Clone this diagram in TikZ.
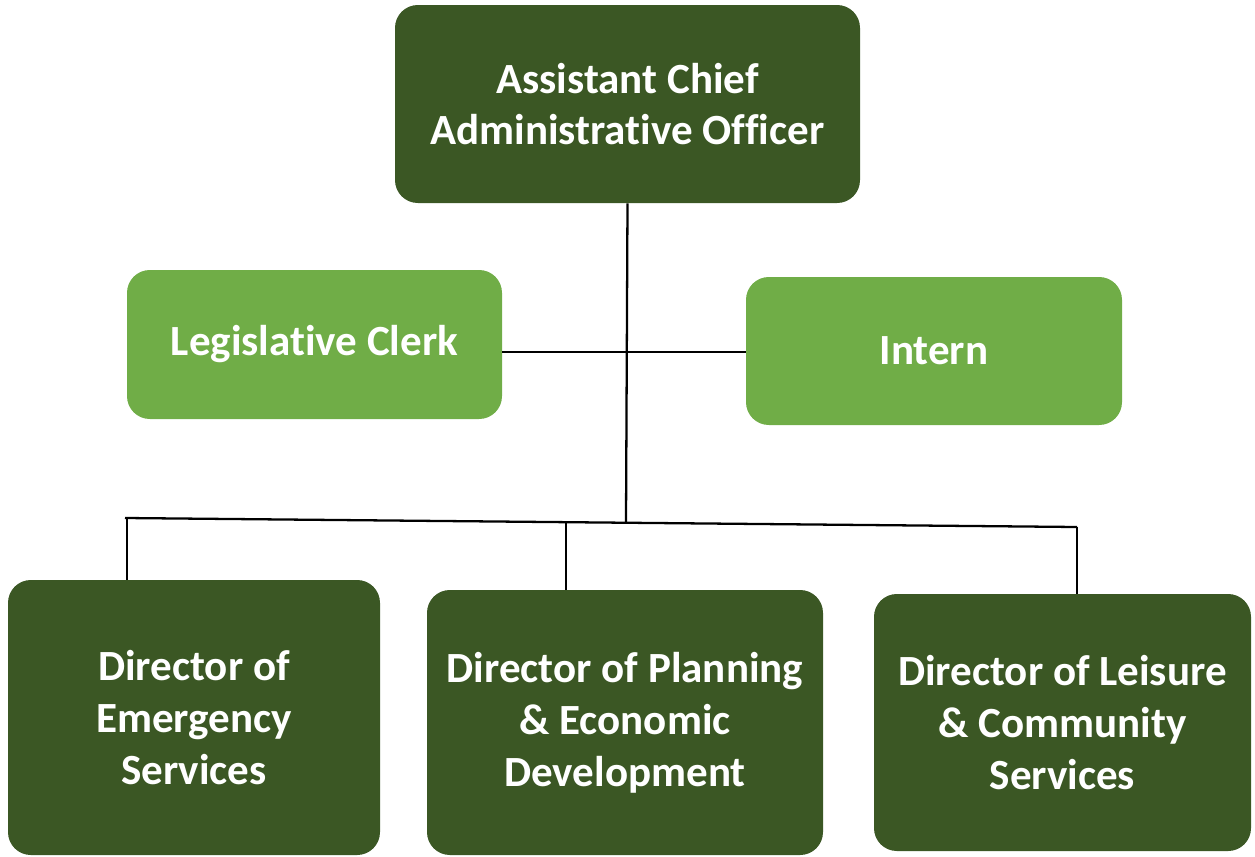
\documentclass[tikz,border=0pt]{standalone}
\usepackage{fontspec}
\setmainfont{Carlito}[Ligatures={NoCommon}]
\definecolor{darkg}{HTML}{3B5724}
\definecolor{lightg}{HTML}{70AD47}
\tikzset{
  box/.style={rectangle, rounded corners=13pt, inner sep=0pt, text=white,
    font=\fontsize{24.5}{29.5}\selectfont\bfseries, align=center},
  darkbox/.style={box, fill=darkg},
  lightbox/.style={box, fill=lightg},
  conn/.style={draw=black, line width=1.3pt}
}
\begin{document}
\begin{tikzpicture}[x=0.02cm,y=-0.02cm]
\useasboundingbox (0,0) rectangle (1255,856);
\node[darkbox, minimum width=465*0.02cm, minimum height=198*0.02cm] (top) at (627.5,104) {Assistant Chief\\Administrative Officer};
\node[lightbox, minimum width=375*0.02cm, minimum height=149*0.02cm] (leg) at (314.5,344.5) {Legislative Clerk};
\node[lightbox, minimum width=376*0.02cm, minimum height=148*0.02cm] (int) at (934,351) {Intern};
\node[darkbox, minimum width=372*0.02cm, minimum height=275*0.02cm] (em) at (194,717.5) {Director of\\Emergency\\Services};
\node[darkbox, minimum width=396*0.02cm, minimum height=265*0.02cm] (pl) at (625,722.5) {Director of Planning\\\& Economic\\Development};
\node[darkbox, minimum width=377*0.02cm, minimum height=257*0.02cm] (le) at (1062.5,722.5) {Director of Leisure\\\& Community\\Services};
\coordinate (j) at (626,522.2);
\coordinate (bl) at (125,518);
\coordinate (br) at (1077,527);
\coordinate (d1) at (127,518);
\coordinate (d2) at (566,521.7);
\coordinate (h) at (626,352);
\draw[conn] (top.south) -- (j);
\draw[conn] (leg.east |- h) -- (int.west |- h);
\draw[conn] (bl) -- (br);
\draw[conn] (d1) -- (d1 |- em.north);
\draw[conn] (d2) -- (d2 |- pl.north);
\draw[conn] (br) -- (br |- le.north);
\end{tikzpicture}
\end{document}
